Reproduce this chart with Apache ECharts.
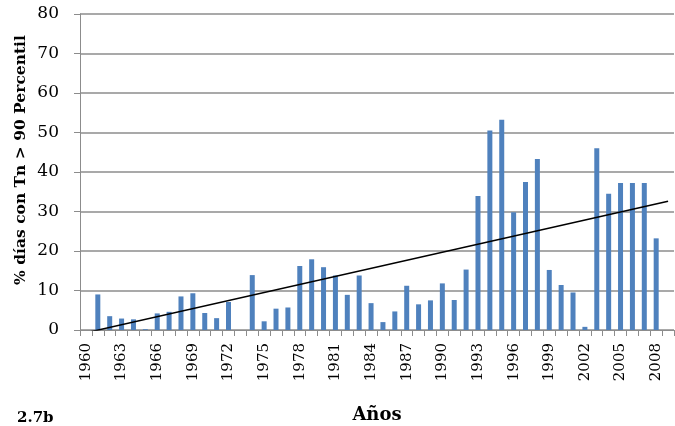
<!DOCTYPE html>
<html>
<head>
<meta charset="utf-8">
<script src="https://cdn.jsdelivr.net/npm/echarts@6/dist/echarts.min.js"></script>
<style>
  html, body { margin: 0; padding: 0; background: #fff; }
  #chart { width: 675px; height: 426px; }
</style>
</head>
<body>
<div id="chart"></div>
<script>
  // años 1960-2009 (el último sin dato)
  const years = []
  for (let y = 1960; y <= 2009; y++) years.push(String(y))

  // % días con Tn > 90 percentil
  const pctDays = [
    0, 9.0, 3.5, 2.9, 2.7, 0.2, 4.2, 4.6, 8.5, 9.3,
    4.3, 3.0, 7.1, 0, 13.9, 2.2, 5.4, 5.7, 16.2, 17.9,
    15.9, 13.8, 8.9, 13.8, 6.8, 2.0, 4.7, 11.2, 6.5, 7.5,
    11.8, 7.6, 15.3, 33.9, 50.5, 53.2, 29.8, 37.5, 43.3, 15.2,
    11.4, 9.5, 0.8, 46.0, 34.5, 37.2, 37.2, 37.2, 23.2, null
  ]

  // línea de tendencia: valor en 1960 y en 2009
  const trendEnds = [-0.7, 32.6]

  const serif = '"DejaVu Serif", "Liberation Serif", serif'
  const gridColor = '#8c8c8c'

  const chart = echarts.init(document.getElementById('chart'))
  chart.setOption({
    animation: false,
    grid: { left: 80, right: 1, top: 14, bottom: 96, containLabel: false, outerBoundsMode: 'none' },
    xAxis: {
      type: 'category',
      data: years,
      name: 'Años',
      nameLocation: 'middle',
      nameGap: 76,
      nameTextStyle: { fontFamily: serif, fontWeight: 'bold', fontSize: 18, color: '#000' },
      axisLine: { lineStyle: { color: gridColor } },
      axisTick: { show: true, interval: 0, length: 6, lineStyle: { color: gridColor } },
      axisLabel: {
        interval: 2,
        rotate: 90,
        margin: 13,
        fontFamily: serif,
        fontSize: 15,
        color: '#000'
      }
    },
    yAxis: {
      type: 'value',
      min: 0,
      max: 80,
      interval: 10,
      axisLine: { show: true, lineStyle: { color: gridColor } },
      axisTick: { show: true, length: 6, lineStyle: { color: gridColor } },
      axisLabel: { margin: 21, fontFamily: serif, fontSize: 17, color: '#000' },
      splitLine: { lineStyle: { color: gridColor, width: 1.5 } }
    },
    series: [
      {
        type: 'bar',
        data: pctDays,
        barWidth: 5,
        itemStyle: { color: '#4f81bd' }
      },
      {
        type: 'line',
        data: [[years[0], trendEnds[0]], [years[years.length - 1], trendEnds[1]]],
        symbol: 'none',
        clip: true,
        lineStyle: { color: '#000', width: 1.5 },
        z: 5
      }
    ],
    graphic: [
      {
        // título del eje y
        type: 'text',
        x: 21,
        y: 160,
        rotation: Math.PI / 2,
        style: {
          text: '% días con Tn > 90 Percentil',
          font: 'bold 15.5px ' + serif,
          fill: '#000',
          textAlign: 'center',
          textVerticalAlign: 'middle'
        }
      },
      {
        type: 'text',
        x: 17,
        y: 418,
        style: { text: '2.7b', font: 'bold 15px ' + serif, fill: '#000', textVerticalAlign: 'middle' }
      }
    ]
  })
</script>
</body>
</html>
